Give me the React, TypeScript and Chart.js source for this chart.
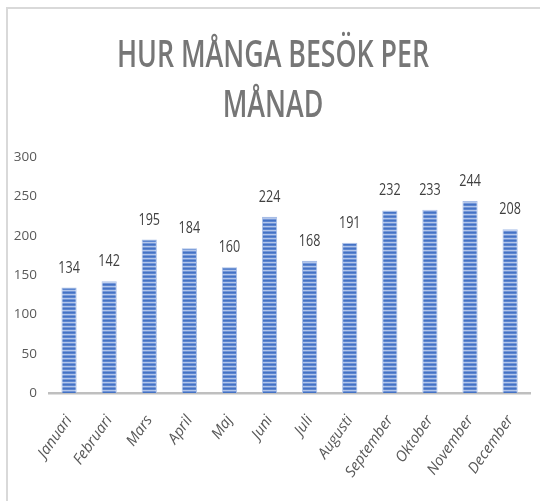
import React, { useEffect, useRef } from "react";
import { Chart, registerables } from "chart.js";

Chart.register(...registerables);

const months = [
  "Januari", "Februari", "Mars", "April", "Maj", "Juni",
  "Juli", "Augusti", "September", "Oktober", "November", "December",
];
const visits = [134, 142, 195, 184, 160, 224, 168, 191, 232, 233, 244, 208];
const titleLines = ["HUR MÅNGA BESÖK PER", "MÅNAD"];
const yMax = 300;
const yStep = 50;

const FONT = "'Open Sans', 'Noto Sans', sans-serif";

function makePattern(): CanvasPattern | string {
  const c = document.createElement("canvas");
  c.width = 4;
  c.height = 4;
  const g = c.getContext("2d");
  if (!g) return "#4472c4";
  const rows = ["#4472c4", "#5d86d0", "#b3c6ea", "#7396d8"];
  rows.forEach((col, i) => {
    g.fillStyle = col;
    g.fillRect(0, i, 4, 1);
  });
  return g.createPattern(c, "repeat") || "#4472c4";
}

const titlePlugin = {
  id: "customTitle",
  afterDraw(chart: any) {
    const ctx = chart.ctx;
    ctx.save();
    ctx.fillStyle = "#767676";
    ctx.font = `600 38px ${FONT}`;
    ctx.textAlign = "center";
    ctx.textBaseline = "alphabetic";
    const w = ctx.measureText(titleLines[0]).width || 312;
    const sx = 312 / w;
    const cx = 273;
    const baselines = [67, 117];
    titleLines.forEach((line, i) => {
      ctx.save();
      ctx.translate(cx, baselines[i]);
      ctx.scale(sx, 1);
      ctx.fillText(line, 0, 0);
      ctx.restore();
    });
    ctx.restore();
  },
};

const valueLabelPlugin = {
  id: "valueLabels",
  afterDatasetsDraw(chart: any) {
    const ctx = chart.ctx;
    const meta = chart.getDatasetMeta(0);
    const data = chart.data.datasets[0].data;
    ctx.save();
    ctx.fillStyle = "#404040";
    ctx.font = `17px ${FONT}`;
    ctx.textAlign = "center";
    ctx.textBaseline = "alphabetic";
    meta.data.forEach((el: any, i: number) => {
      ctx.save();
      ctx.translate(el.x, el.y - 15);
      ctx.scale(0.74, 1);
      ctx.fillText(String(data[i]), 0, 0);
      ctx.restore();
    });
    ctx.restore();
  },
};

export default function App() {
  const ref = useRef<HTMLCanvasElement | null>(null);

  useEffect(() => {
    if (!ref.current) return;
    const pattern = makePattern();
    const chart = new Chart(ref.current, {
      type: "bar",
      data: {
        labels: months,
        datasets: [
          {
            data: visits,
            backgroundColor: pattern as any,
            borderColor: "#a9bfe8",
            borderWidth: { left: 1, right: 1, top: 1, bottom: 0 } as any,
            borderSkipped: false,
            categoryPercentage: 1,
            barPercentage: 0.38,
          },
        ],
      },
      options: {
        responsive: false,
        animation: false,
        layout: { padding: { top: 157, left: 0, right: 3, bottom: 0 } },
        plugins: {
          legend: { display: false },
          title: { display: false },
          tooltip: { enabled: false },
        },
        scales: {
          x: {
            grid: { display: false, drawTicks: false },
            border: { display: true, color: "#bfbfbf", width: 2.5 },
            ticks: {
              autoSkip: false,
              maxRotation: 55,
              minRotation: 55,
              padding: 19,
              color: "#595959",
              font: { family: FONT, size: 15, style: "italic" },
            },
            afterFit: (s: any) => {
              s.height = 108;
            },
          },
          y: {
            min: 0,
            max: yMax,
            grid: { display: false, drawTicks: false },
            border: { display: false },
            ticks: {
              stepSize: yStep,
              padding: 12,
              color: "#595959",
              font: { family: FONT, size: 13.5 },
            },
            afterFit: (s: any) => {
              s.width = 49;
            },
          },
        },
      },
      plugins: [titlePlugin, valueLabelPlugin],
    });
    return () => chart.destroy();
  }, []);

  return (
    <div
      style={{
        position: "fixed",
        left: 0,
        top: 0,
        width: 540,
        height: 501,
        overflow: "hidden",
        background: "#ffffff",
      }}
    >
      <div
        style={{
          position: "absolute",
          left: 6,
          top: 7,
          width: 600,
          height: 600,
          border: "2px solid #d9d9d9",
        }}
      />
      <canvas
        ref={ref}
        width={544}
        height={501}
        style={{ position: "absolute", left: 0, top: 0, width: 544, height: 501 }}
      />
    </div>
  );
}
